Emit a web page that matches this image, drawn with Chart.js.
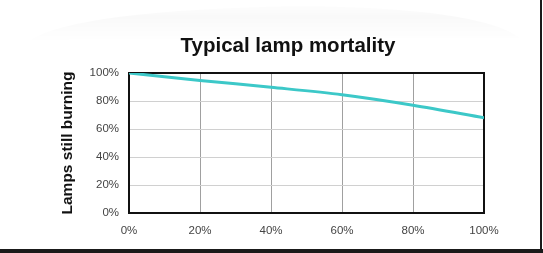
<!DOCTYPE html>
<html>
<head>
<meta charset="utf-8">
<script src="https://cdn.jsdelivr.net/npm/chart.js@4"></script>
<style>
  html, body { margin: 0; padding: 0; background: #fff; }
  #wrap { width: 543px; height: 253px; position: relative; }
</style>
</head>
<body>
<div id="wrap"><canvas id="chart" width="543" height="253"></canvas></div>
<script>
// Lamp life (% of rated) vs share of lamps still burning
const lifeShare = [0, 20, 40, 60, 80, 100];
const stillBurning = [100, 94.7, 89.8, 84.5, 77, 68];
const tickValues = [0, 20, 40, 60, 80, 100];

const chartTitle = 'Typical lamp mortality';
const yTitle = 'Lamps still burning';

// faint background swoosh, title, frame and the dark page edges
const decor = {
    id: 'decor',
    beforeDraw(chart) {
        const ctx = chart.ctx;
        ctx.save();
        const g = ctx.createLinearGradient(0, 0, 0, 42);
        g.addColorStop(0, 'rgba(0,0,0,0.0)');
        g.addColorStop(0.4, 'rgba(0,0,0,0.025)');
        g.addColorStop(1, 'rgba(0,0,0,0)');
        ctx.fillStyle = g;
        ctx.beginPath();
        ctx.moveTo(30, 40);
        ctx.quadraticCurveTo(80, 10, 300, 6);
        ctx.quadraticCurveTo(480, 8, 520, 38);
        ctx.lineTo(30, 40);
        ctx.fill();
        ctx.restore();
    },
    beforeDatasetsDraw(chart) {
        const { ctx, chartArea: a } = chart;
        ctx.save();
        ctx.strokeStyle = '#111';
        ctx.lineWidth = 2;
        ctx.strokeRect(a.left, a.top, a.right - a.left, a.bottom - a.top);
        ctx.restore();
    },
    afterDraw(chart) {
        const ctx = chart.ctx;
        ctx.save();
        ctx.fillStyle = '#111';
        ctx.font = 'bold 20.5px "Liberation Sans", Arial, sans-serif';
        ctx.textAlign = 'center';
        ctx.textBaseline = 'middle';
        ctx.fillText(chartTitle, 288, 46);
        ctx.fillStyle = '#1a1a1a';
        ctx.fillRect(0, 249, 543, 4);
        ctx.fillRect(540, 0, 2, 253);
        ctx.restore();
    }
};

new Chart(document.getElementById('chart'), {
    type: 'line',
    data: {
        datasets: [{
            data: lifeShare.map((x, i) => ({ x, y: stillBurning[i] })),
            borderColor: '#3cc8c8',
            borderWidth: 3,
            pointRadius: 0,
            tension: 0.3,
            fill: false
        }]
    },
    options: {
        responsive: false,
        animation: false,
        layout: { padding: { left: 0, right: 59, top: 73, bottom: 8 } },
        plugins: { legend: { display: false }, tooltip: { enabled: false } },
        scales: {
            x: {
                type: 'linear',
                min: 0, max: 100,
                afterBuildTicks: s => { s.ticks = tickValues.map(v => ({ value: v })); },
                afterFit: s => { s.height = 32; },
                grid: { color: '#a0a0a0', lineWidth: 1, drawTicks: false },
                border: { display: false },
                ticks: {
                    padding: 11,
                    color: '#444',
                    font: { family: '"Liberation Sans", Arial, sans-serif', size: 11.5 },
                    callback: v => v + '%'
                }
            },
            y: {
                min: 0, max: 100,
                afterBuildTicks: s => { s.ticks = tickValues.map(v => ({ value: v })); },
                afterFit: s => { s.width = 129; },
                grid: { color: '#d0d0d0', lineWidth: 1, drawTicks: false },
                border: { display: false },
                ticks: {
                    padding: 10,
                    color: '#444',
                    font: { family: '"Liberation Sans", Arial, sans-serif', size: 11.5 },
                    callback: v => v + '%'
                },
                title: {
                    display: true,
                    text: yTitle,
                    color: '#111',
                    font: { family: '"Liberation Sans", Arial, sans-serif', size: 15.5, weight: 'bold' },
                    padding: { top: 58, bottom: 0 }
                }
            }
        }
    },
    plugins: [decor]
});
</script>
</body>
</html>
